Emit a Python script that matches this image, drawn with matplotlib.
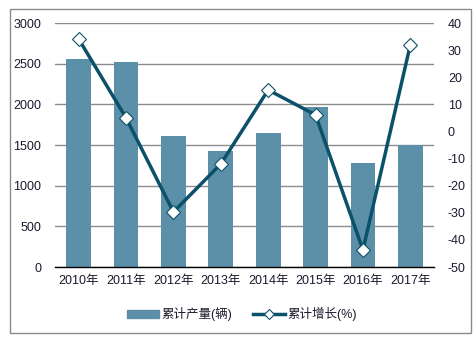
import matplotlib
matplotlib.use("Agg")
import matplotlib.pyplot as plt
from matplotlib.patches import Rectangle
from matplotlib.lines import Line2D

plt.rcParams['font.family'] = ['Liberation Sans', 'Noto Sans CJK SC', 'DejaVu Sans']
plt.rcParams['axes.unicode_minus'] = False

years = ["2010年", "2011年", "2012年", "2013年", "2014年", "2015年", "2016年", "2017年"]
output = [2560, 2520, 1610, 1430, 1650, 1970, 1280, 1500]
growth = [34.1, 5.0, -29.7, -12.0, 15.3, 6.1, -43.7, 31.9]
left_ticks = [0, 500, 1000, 1500, 2000, 2500, 3000]
right_ticks = [-50, -40, -30, -20, -10, 0, 10, 20, 30, 40]

bar_color = "#5b90a8"
line_color = "#0b5169"
grid_color = "#8c8c8c"
text_color = "#1a1a2e"
fs = 9

fig = plt.figure(figsize=(4.76, 3.42), dpi=100)
fig.patches.append(Rectangle((10 / 476, 1 - 333 / 342), 461 / 476, 324 / 342,
                             transform=fig.transFigure, fill=False,
                             edgecolor="#8a8a8a", linewidth=1.0))

ax = fig.add_axes([55 / 476, 1 - 267 / 342, 379 / 476, 244 / 342])
x = list(range(len(years)))
ax.bar(x, output, width=0.52, color=bar_color, zorder=2)
ax.set_ylim(0, 3000)
ax.set_xlim(-0.5, len(years) - 0.5)
ax.set_yticks(left_ticks)
ax.set_xticks(x)
ax.set_xticklabels(years)
ax.yaxis.grid(True, color=grid_color, linewidth=1.0, zorder=0)
ax.set_axisbelow(True)
for s in ["left", "right", "top"]:
    ax.spines[s].set_visible(False)
ax.spines["bottom"].set_color("#000000")
ax.spines["bottom"].set_linewidth(1.0)
ax.tick_params(axis="both", length=0, labelsize=fs, colors=text_color)
ax.tick_params(axis="y", pad=10)
ax.tick_params(axis="x", pad=6)

ax2 = ax.twinx()
ax2.plot(x, growth, color=line_color, linewidth=2.5, marker="D", markersize=7,
         markerfacecolor="white", markeredgecolor=line_color, markeredgewidth=0.8,
         zorder=3)
ax2.set_ylim(-50, 40)
ax2.set_yticks(right_ticks)
for s in ["left", "right", "top", "bottom"]:
    ax2.spines[s].set_visible(False)
ax2.tick_params(axis="y", length=0, labelsize=fs, colors=text_color, pad=10)

handles = [
    Rectangle((0, 0), 1, 1, color=bar_color),
    Line2D([0], [0], color=line_color, linewidth=2.5, marker="D", markersize=5,
           markerfacecolor="white", markeredgecolor=line_color, markeredgewidth=0.8),
]
fig.legend(handles, ["累计产量(辆)", "累计增长(%)"], loc="center",
           bbox_to_anchor=(242 / 476, 1 - 314 / 342), ncol=2, frameon=False,
           fontsize=fs, handlelength=2.6, handleheight=0.6, handletextpad=0.2,
           columnspacing=1.6, labelcolor=text_color)

fig.savefig("out.png", dpi=100)
